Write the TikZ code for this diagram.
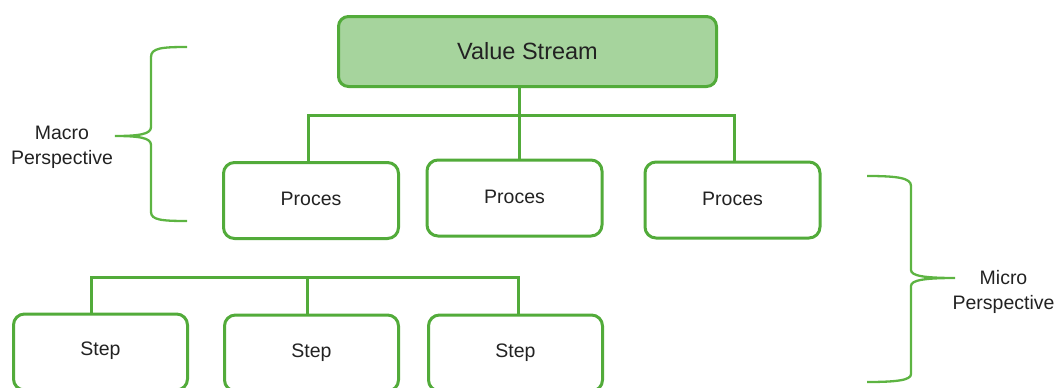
\documentclass[tikz,border=0pt]{standalone}
\usepackage{fontspec}
\setmainfont{Liberation Sans}
\begin{document}
\begin{tikzpicture}[x=1pt,y=-1pt,
  boxbase/.style={draw=lgreen,line width=3pt,rounded corners=11pt,fill=white,
    text=txt,font=\fontsize{19.5}{24}\selectfont,inner sep=0pt},
  vsbox/.style={boxbase,fill=vsfill,minimum width=378pt,minimum height=70pt,
    font=\fontsize{23.5}{28}\selectfont,rounded corners=10pt},
  procbox/.style={boxbase,minimum width=175pt,minimum height=76pt},
  stepbox/.style={boxbase,minimum width=174pt,minimum height=76pt},
  conn/.style={draw=lgreen,line width=3pt},
  brace/.style={draw=bgreen,line width=2.3pt},
  lbl/.style={text=txt,font=\fontsize{19.5}{25}\selectfont,align=center,inner sep=0pt}
]
\definecolor{lgreen}{HTML}{52AB3A}
\definecolor{bgreen}{HTML}{5DB442}
\definecolor{vsfill}{HTML}{A6D49D}
\definecolor{txt}{HTML}{222222}
\useasboundingbox (0,0) rectangle (1057,388);
\begin{scope}
\clip (0,0) rectangle (1057,388);

% top
\node[vsbox] (vs) at (527.5,51.5) {Value Stream};

% processes
\node[procbox] (p1) at (311,200.5) {\raisebox{3pt}{Proces}};
\node[procbox] (p2) at (514.5,198) {\raisebox{2pt}{Proces}};
\node[procbox] (p3) at (732.5,200) {\raisebox{3pt}{Proces}};

\coordinate (j0) at (519,115);
\coordinate (bl) at (308,115);
\coordinate (br) at (734,115);
\draw[conn] (vs.south -| j0) -- (j0);
\draw[conn] (p1.north -| bl) -- (bl) -- (br) -- (p3.north -| br);
\draw[conn] (p2.north -| j0) -- (j0);

% steps
\node[stepbox] (s1) at (100.5,352) {\raisebox{6pt}{Step}};
\node[stepbox] (s2) at (311.5,353) {\raisebox{2pt}{Step}};
\node[stepbox] (s3) at (515.5,353) {\raisebox{2pt}{Step}};

\coordinate (sl) at (91,277);
\coordinate (sm) at (307,277);
\coordinate (sr) at (518,277);
\draw[conn] (s1.north -| sl) -- (sl) -- (sr) -- (s3.north -| sr);
\draw[conn] (s2.north -| sm) -- (sm);

% left brace
\coordinate (lbt) at (187,47);
\coordinate (lbm) at (115,136);
\coordinate (lbb) at (187,221);
\draw[brace] (lbt) .. controls (162,47) and (151,48) .. (151,57)
  -- (151,127) .. controls (151,134) and (140,136) .. (lbm)
  .. controls (140,136) and (151,138) .. (151,145)
  -- (151,212) .. controls (151,220) and (162,221) .. (lbb);
\node[lbl] (macro) at (62,147.5) {Macro\\Perspective};

% right brace
\coordinate (rbt) at (867,176);
\coordinate (rbm) at (955,278);
\coordinate (rbb) at (867,382);
\draw[brace] (rbt) .. controls (898,176) and (911,178) .. (911,186)
  -- (911,270) .. controls (911,276) and (925,278) .. (rbm)
  .. controls (925,278) and (911,280) .. (911,286)
  -- (911,374) .. controls (911,380) and (898,382) .. (rbb);
\node[lbl] (micro) at (1003.5,291.5) {Micro\\Perspective};
\end{scope}
\end{tikzpicture}
\end{document}
